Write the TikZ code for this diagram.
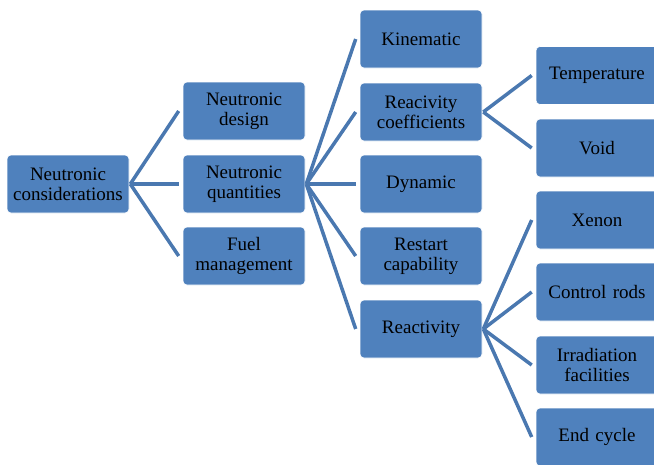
\documentclass[tikz,border=0pt]{standalone}
\usepackage{fontspec}
\setmainfont{Liberation Serif}
\newfontfamily\tnr{Liberation Serif}
\definecolor{boxblue}{HTML}{4F81BD}
\definecolor{lineblue}{HTML}{4A78B0}
\begin{document}
\begin{tikzpicture}[x=1pt,y=-1pt,
  box/.style={fill=boxblue, draw=white, line width=0.6pt, rounded corners=4pt,
    minimum width=122pt, minimum height=58pt, inner sep=0pt, align=center,
    text width=118pt, font=\tnr\fontsize{19}{20}\selectfont},
  conn/.style={draw=lineblue, line width=3.5pt}]
\useasboundingbox (0,0) rectangle (654,464);
\clip (0,0) rectangle (654,464);
% column 0
\node[box] (nc) at (68,184) {Neutronic\\considerations};
% column 1
\node[box] (nd) at (244,111) {Neutronic\\design};
\node[box] (nq) at (244,184) {Neutronic\\quantities};
\node[box] (fm) at (244,256) {Fuel\\management};
% column 2
\node[box] (ki) at (421,39) {Kinematic};
\node[box] (rc) at (421,112) {Reacivity\\coefficients};
\node[box] (dy) at (421,184) {Dynamic};
\node[box] (rs) at (421,256) {Restart\\capability};
\node[box] (re) at (421,329) {Reactivity};
% column 3
\node[box] (te) at (597,75.5) {Temperature};
\node[box] (vo) at (597,148) {Void};
\node[box] (xe) at (597,220) {Xenon};
\node[box] (cr) at (597,292) {Control rods};
\node[box] (ir) at (597,365) {Irradiation\\facilities};
\node[box] (ec) at (597,437) {End cycle};
% connectors
\foreach \c in {nd,nq,fm}
  \draw[conn] ([xshift=1pt]nc.east) -- ([xshift=-4pt]\c.west);
\foreach \c in {ki,rc,dy,rs,re}
  \draw[conn] ([xshift=1pt]nq.east) -- ([xshift=-4pt]\c.west);
\foreach \c in {te,vo}
  \draw[conn] ([xshift=1pt]rc.east) -- ([xshift=-4pt]\c.west);
\foreach \c in {xe,cr,ir,ec}
  \draw[conn] ([xshift=1pt]re.east) -- ([xshift=-4pt]\c.west);
\end{tikzpicture}
\end{document}
